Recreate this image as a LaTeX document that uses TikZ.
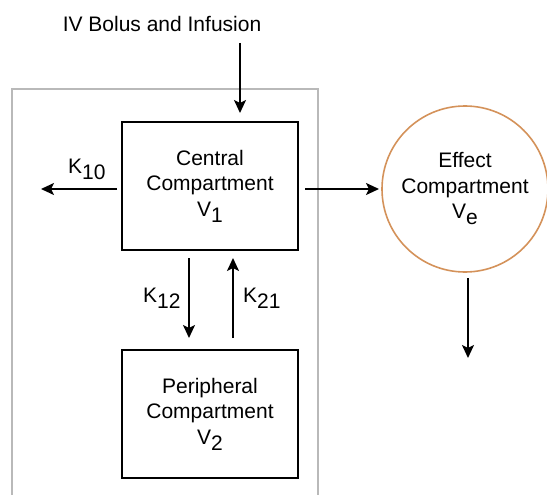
\documentclass[tikz,border=0pt]{standalone}
\usepackage{fontspec}
\setmainfont{Liberation Sans}
\usetikzlibrary{arrows.meta}
\definecolor{effor}{RGB}{212,146,90}
\definecolor{boxgray}{RGB}{185,185,185}
\newcommand{\lowsub}[1]{\raisebox{-6pt}{#1}}
\tikzset{
  every node/.style={font=\fontsize{21}{25.5}\selectfont},
  comp/.style={draw, line width=1.9pt, minimum width=176pt, minimum height=128pt, align=center, inner sep=0pt},
  effect/.style={draw=effor, line width=1.6pt, circle, minimum size=166pt, align=center, inner sep=0pt},
  arr/.style={line width=1.9pt, -{Stealth[length=13pt,width=12pt,inset=3pt]}},
  lbl/.style={inner sep=0pt}
}
\begin{document}
\begin{tikzpicture}[x=1pt,y=-1pt]
\useasboundingbox (0,0) rectangle (547,495);
\begin{scope}
\clip (0,0) rectangle (547,495);
\draw[boxgray, line width=1.5pt] (12,505) -- (12,89) -- (318,89) -- (318,505);
\end{scope}
\node[comp] (central) at (210,186) {Central\\Compartment\\V\lowsub{1}};
\node[comp] (periph) at (210,414) {Peripheral\\Compartment\\V\lowsub{2}};
\node[effect] (effect) at (465,189) {Effect\\Compartment\\V\lowsub{e}};
\node[lbl, anchor=base] (iv) at (162,32) {IV Bolus and Infusion};
\node[lbl, anchor=base west] (k10) at (68,173) {K\lowsub{10}};
\node[lbl, anchor=base west] (k12) at (143,302) {K\lowsub{12}};
\node[lbl, anchor=base west] (k21) at (243,302) {K\lowsub{21}};
\coordinate (ivs) at (240,43);
\coordinate (ive) at (240,113);
\coordinate (k10s) at (117,189);
\coordinate (k10e) at (41,189);
\coordinate (k12s) at (189,258);
\coordinate (k12e) at (189,338);
\coordinate (k21s) at (233,338);
\coordinate (k21e) at (233,258);
\coordinate (ces) at (305,189);
\coordinate (cee) at (379,189);
\coordinate (efs) at (468,278);
\coordinate (efe) at (468,358);
\draw[arr] (ivs) -- (ive);
\draw[arr] (k10s) -- (k10e);
\draw[arr] (k12s) -- (k12e);
\draw[arr] (k21s) -- (k21e);
\draw[arr] (ces) -- (cee);
\draw[arr] (efs) -- (efe);
\end{tikzpicture}
\end{document}
